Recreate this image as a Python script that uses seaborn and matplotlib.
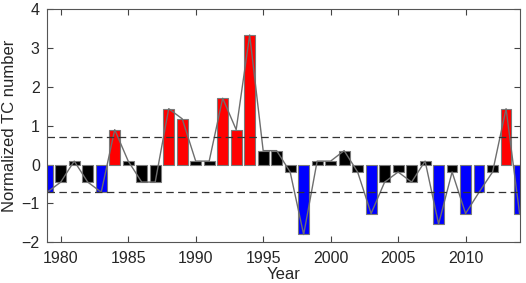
import pandas as pd
import numpy as np
import seaborn as sns
import matplotlib.pyplot as plt

years = list(range(1979, 2015))
values = [-0.71, -0.45, 0.09, -0.45, -0.71, 0.90, 0.09, -0.45, -0.45, 1.44,
          1.18, 0.09, 0.09, 1.71, 0.90, 3.34, 0.36, 0.36, -0.19, -1.80,
          0.09, 0.09, 0.36, -0.19, -1.26, -0.45, -0.19, -0.45, 0.09, -1.53,
          -0.19, -1.26, -0.71, -0.19, 1.44, -1.26]
threshold = 0.7
xticks = [1980, 1985, 1990, 1995, 2000, 2005, 2010]
yticks = [-2, -1, 0, 1, 2, 3, 4]


def classify(v):
    if v > threshold:
        return "high"
    if v < -threshold:
        return "low"
    return "normal"


def make_plot(filename):
    data = pd.DataFrame({"year": years, "value": values})
    data["cls"] = data["value"].apply(classify)
    palette = {"high": "#ff0000", "low": "#0000ff", "normal": "#000000"}

    sns.set_style("ticks")
    plt.rcParams["font.family"] = ["Liberation Sans", "DejaVu Sans"]
    fig = plt.figure(figsize=(5.26, 2.83), dpi=100)
    ax = fig.add_axes([0.0888, 0.144, 0.9, 0.823])

    sns.barplot(data=data, x="year", y="value", hue="cls", palette=palette,
                native_scale=True, dodge=False, width=0.8, legend=False,
                saturation=1, edgecolor="#7a7a7a", linewidth=0.8, ax=ax)
    sns.lineplot(data=data, x="year", y="value", color="#6e6e6e",
                 linewidth=1.0, ax=ax)
    for h in (threshold, -threshold):
        ax.axhline(h, color="#333333", linestyle=(0, (6, 3.5)), linewidth=0.9)

    ax.set_xlim(1978.96, 2014.04)
    ax.set_ylim(-2, 4)
    ax.set_xticks(xticks)
    ax.set_yticks(yticks)
    ax.tick_params(direction="in", length=4, width=0.8, top=True, right=True,
                   labelsize=11.5, color="#444444")
    ax.tick_params(axis="x", pad=6)
    ax.tick_params(axis="y", pad=5)
    for s in ax.spines.values():
        s.set_color("#555555")
        s.set_linewidth(0.8)
    ax.set_xlabel("Year", fontsize=12, labelpad=1)
    ax.set_ylabel("Normalized TC number", fontsize=12, labelpad=3)
    plt.savefig(filename, dpi=100)


make_plot("out.png")
